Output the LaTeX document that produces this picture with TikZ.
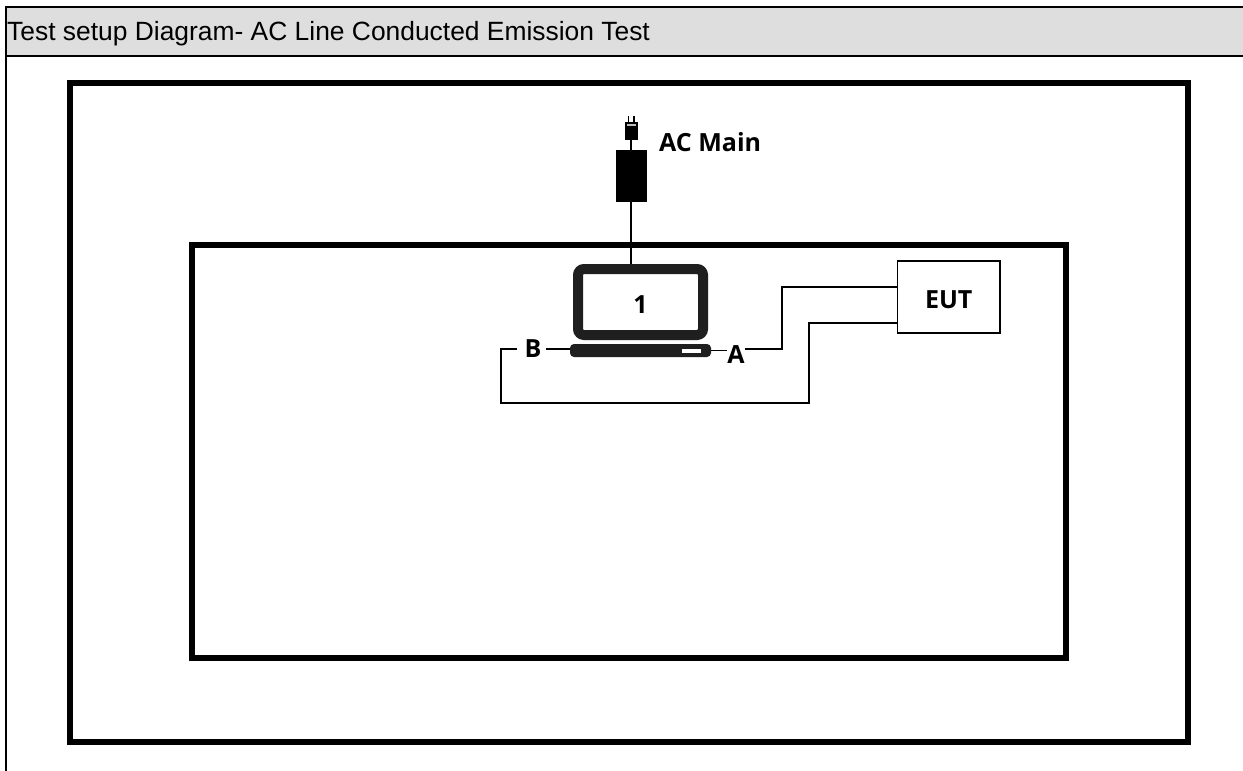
\documentclass[tikz,border=0pt]{standalone}
\usepackage{fontspec}
\setmainfont{Liberation Sans}
\newfontfamily\labelfont{Open Sans}
\tikzset{
    frame/.style={draw, line width=6pt, outer sep=0pt, inner sep=0pt, anchor=north west},
    wire/.style={draw, line width=1.7pt},
    lbl/.style={font=\labelfont\bfseries\fontsize{25}{28}\selectfont, inner sep=0pt},
}
\begin{document}
\begin{tikzpicture}[x=1pt,y=-1pt]
        \useasboundingbox (0,0) rectangle (1243,771);
        \fill[fill=white] (0,0) rectangle (1243,771);
        \node [fill=black!13, minimum width=1237pt, minimum height=49pt, anchor=north west, inner sep=0pt, outer sep=0pt] (header) at (6,7) {}; %Header band
        \draw [line width=2pt] (1243,7) -- (6,7) -- (6,771) (6,56) -- (1243,56);
        \node [anchor=base west, font=\fontsize{26.4}{30}\selectfont, inner sep=0pt] (title) at (7,40.5) {Test setup Diagram- AC Line Conducted Emission Test};
        \node [frame, minimum width=1118.5pt, minimum height=658.5pt] (outer) at (69.7,83) {}; %Outer frame
        \node [frame, minimum width=874pt, minimum height=413pt] (inner) at (192,245) {}; %Inner frame
        \node [draw, line width=1.7pt, minimum width=102.5pt, minimum height=72pt, anchor=north west, inner sep=0pt, outer sep=0pt, lbl, text height=22pt, text depth=0pt] (eut) at (897.5,261) {EUT};
        \node [draw=black!88, line width=10pt, rounded corners=6pt, minimum width=125pt, minimum height=66pt, inner sep=0pt, outer sep=5pt, lbl, text height=22pt, text depth=0pt] (screen) at (640.5,302) {1}; %Laptop screen
        \node [fill=black!88, rounded corners=4pt, minimum width=141pt, minimum height=13pt, inner sep=0pt, outer sep=0pt] (base) at (640.5,350.5) {}; %Laptop base
        \node [fill=white, minimum width=19pt, minimum height=4pt, inner sep=0pt] (slot) at (691.5,350.5) {};
        \node [fill=black, minimum width=31pt, minimum height=52pt, inner sep=0pt] (adapter) at (631,176) {}; %Power brick
        \node [fill=black, minimum width=13pt, minimum height=18pt, inner sep=0pt] (plug) at (631,131) {}; %Plug
        \node [fill=black!25, minimum width=9pt, minimum height=2pt, inner sep=0pt] (plugmark) at (631,125) {};
        \coordinate (pinL) at (628.5,116);
        \coordinate (pinR) at (634,116);
        \draw [line width=1.2pt] (pinL) -- ++(0,6) (pinR) -- ++(0,6);
        \node [lbl, anchor=west] (acmain) at (659,142) {AC Main};
        \node [lbl] (portB) at (533,349) {B};
        \node [lbl] (portA) at (736,355) {A};
        \coordinate (bendA) at (782,349);
        \draw [wire] (plug) -- (adapter) -- (screen.north -| adapter);
        \draw [wire]
            (base.east) -- (portA.west |- base.east)
            (portA.east |- bendA) -- (bendA) |- (eut.west |- 0,287)
        ;
        \draw [wire]
            (base.west |- portB) -- ([xshift=4pt]portB.east)
            ([xshift=-7pt]portB.west) -- (501,349) |- (809,403) |- (eut.west |- 0,323)
        ;
    \end{tikzpicture}
\end{document}
